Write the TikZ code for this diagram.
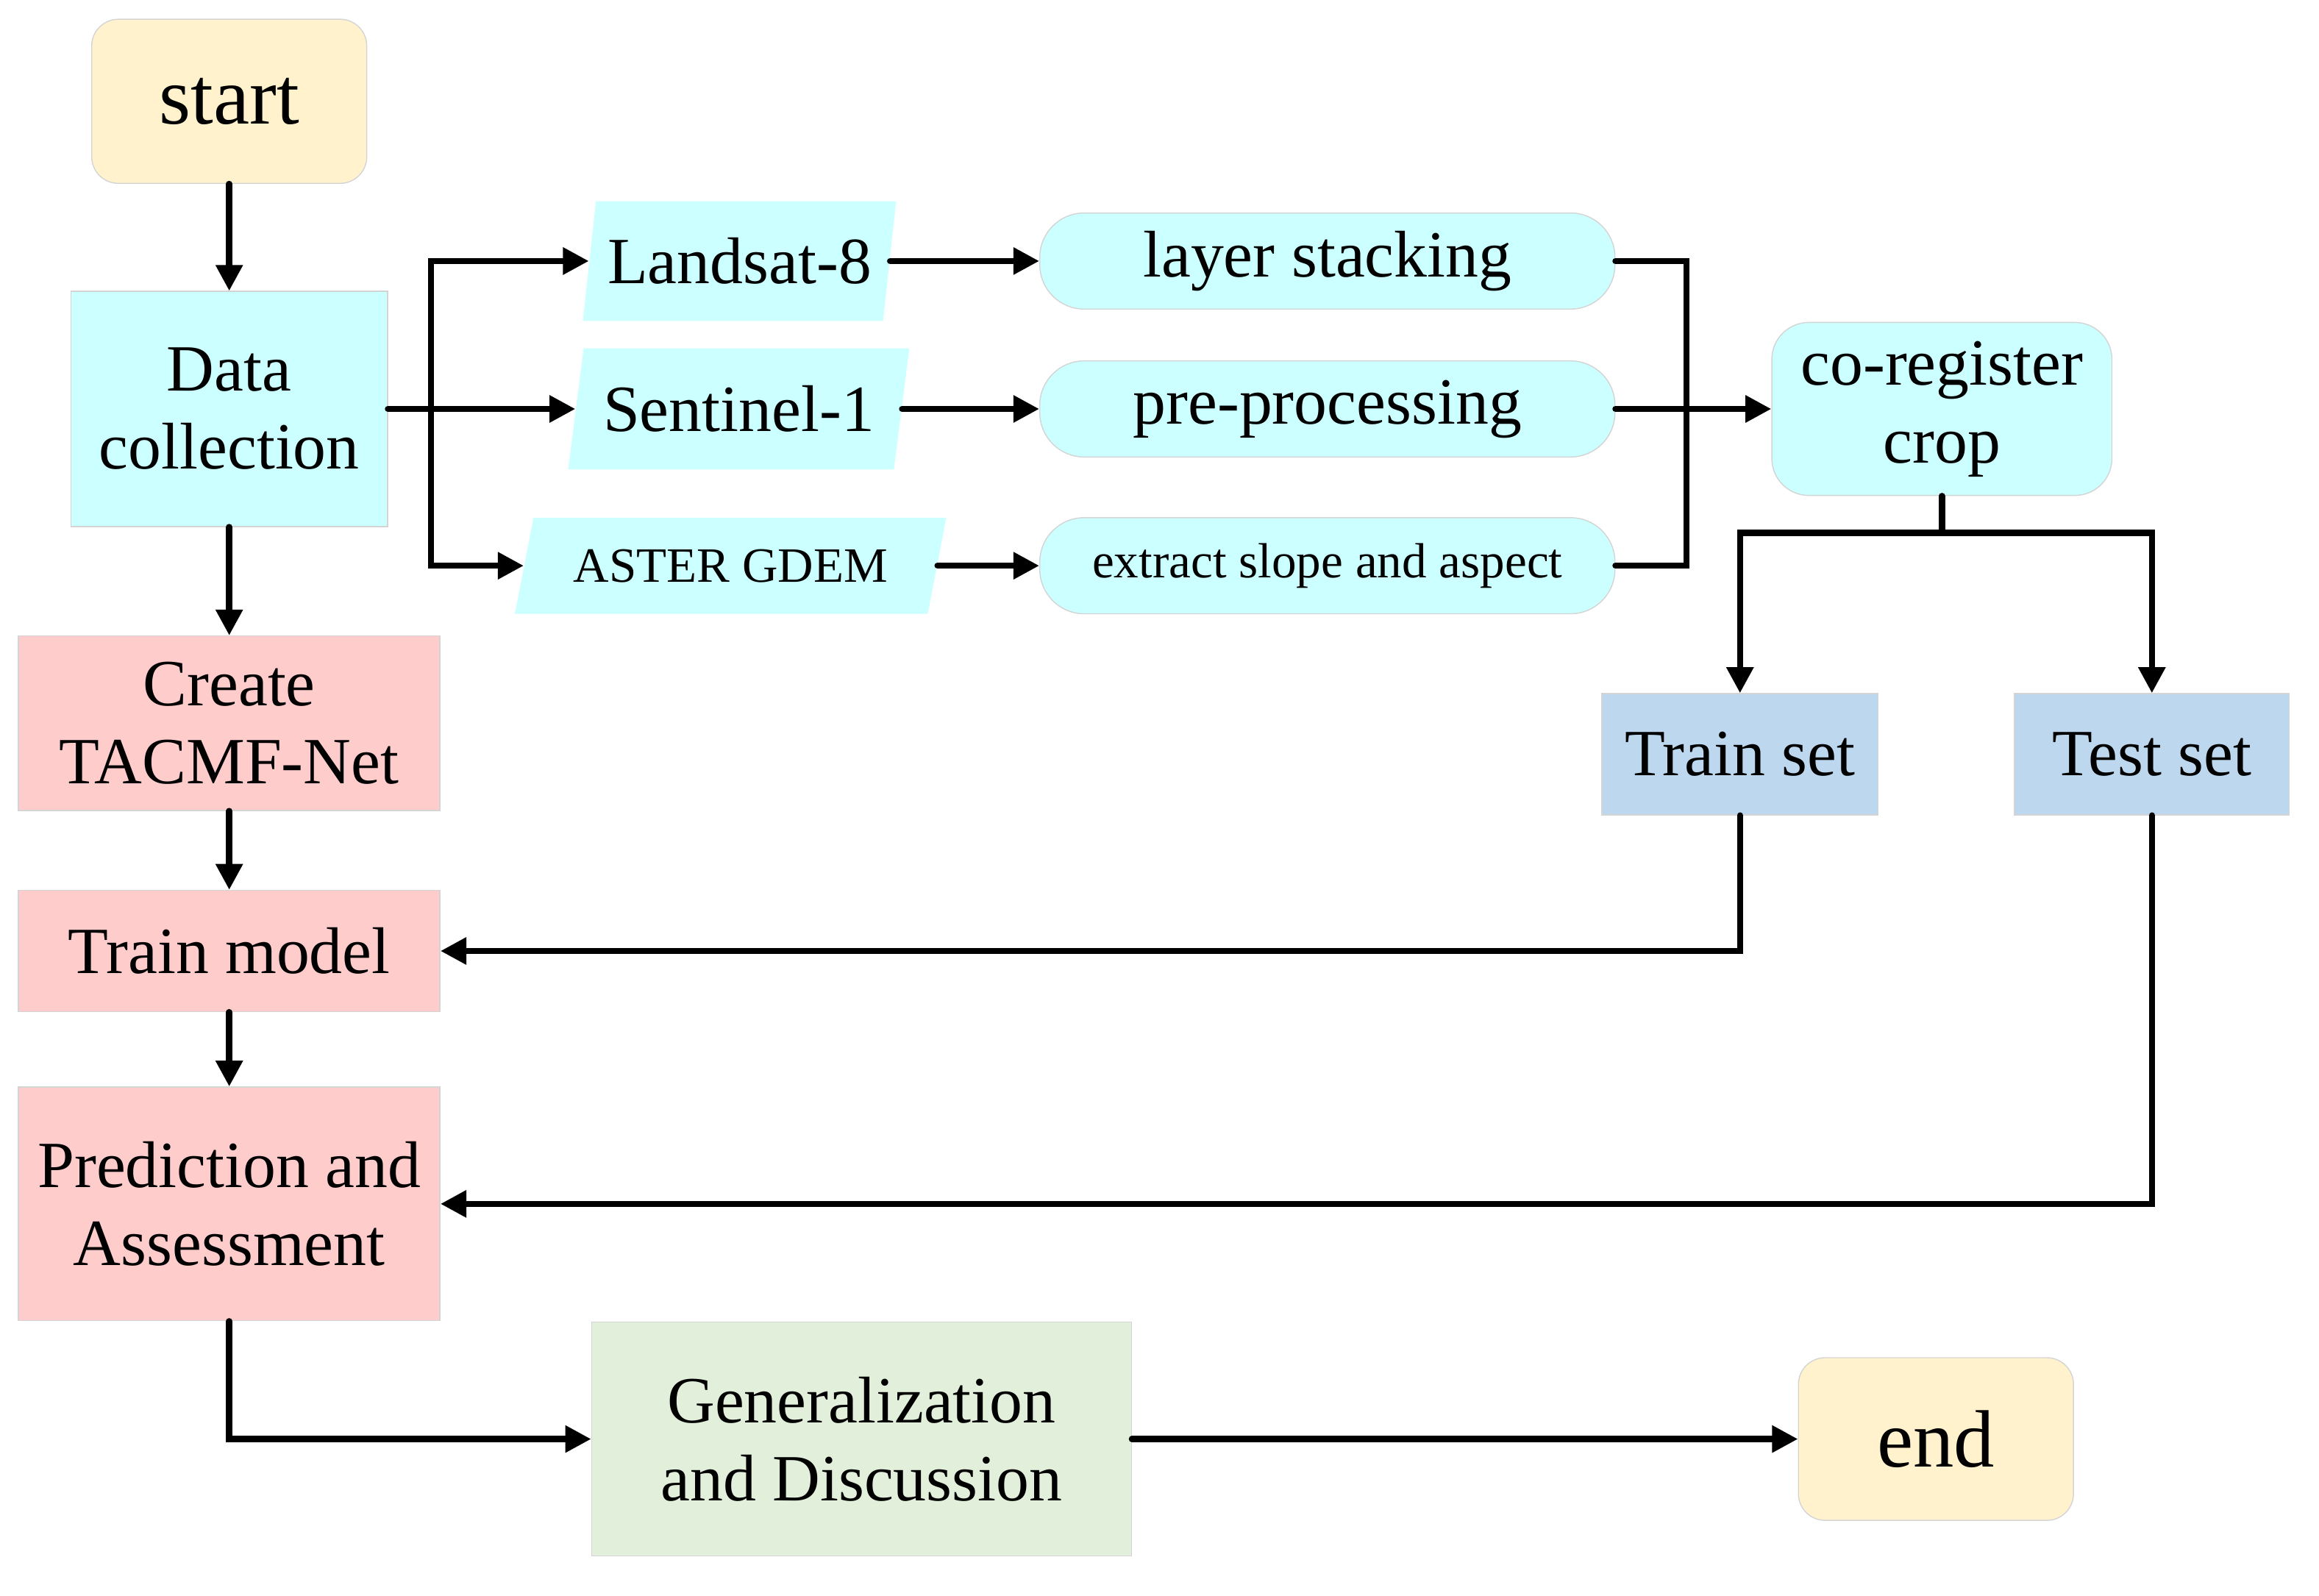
\documentclass[tikz,border=0pt]{standalone}
\usepackage{fontspec}
\setmainfont{Liberation Serif}
\usetikzlibrary{shapes.geometric,arrows.meta,calc}
\definecolor{cyellow}{HTML}{FFF2CC}
\definecolor{ccyan}{HTML}{CCFFFF}
\definecolor{cpink}{HTML}{FFCCCC}
\definecolor{cgreen}{HTML}{E2EFDA}
\definecolor{cblue}{HTML}{BDD7EE}
\definecolor{cborder}{HTML}{D4D4D4}
\tikzset{
  mfont/.style={font=\fontsize{25.4}{30}\selectfont},
  sfont/.style={font=\fontsize{19}{23}\selectfont},
  bfont/.style={font=\fontsize{31.3}{36}\selectfont},
  box/.style={rectangle, draw=cborder, line width=0.4pt, align=center, inner sep=0pt, mfont},
  rbox/.style={box, rounded corners=0.36cm},
  pill/.style={box, rounded corners=0.6cm, minimum width=7.78cm, minimum height=1.3cm, fill=ccyan},
  para/.style={trapezium, trapezium stretches=true, fill=ccyan, inner sep=0pt, align=center, mfont},
  conn/.style={line width=2.4pt, line cap=round, line join=miter},
  arr/.style={conn, -{Triangle[length=0.35cm,width=0.35cm]}},
}
\begin{document}
\begin{tikzpicture}[x=0.02cm,y=-0.02cm]
\useasboundingbox (0,0) rectangle (1568,1079);
% left column
\node[rbox, fill=cyellow, bfont, minimum width=3.72cm, minimum height=2.22cm] (st) at (155,68.5) {start};
\node[box, fill=ccyan, minimum width=4.28cm, minimum height=3.18cm] (dc) at (155,276.5) {Data\\collection};
\node[box, fill=cpink, minimum width=5.7cm, minimum height=2.36cm] (cn) at (155,489) {Create\\TACMF-Net};
\node[box, fill=cpink, minimum width=5.7cm, minimum height=1.64cm] (tm) at (155,643) {Train model};
\node[box, fill=cpink, minimum width=5.7cm, minimum height=3.16cm] (pa) at (155,814) {Prediction and\\Assessment};
\node[box, fill=cgreen, minimum width=7.3cm, minimum height=3.16cm] (gd) at (582.5,973) {Generalization\\and Discussion};
\node[rbox, fill=cyellow, bfont, minimum width=3.72cm, minimum height=2.2cm] (en) at (1309,973) {end};
% data sources
\node[para, trapezium left angle=75.5, trapezium right angle=104.5, minimum width=4.24cm, minimum height=1.62cm] (l8) at (500,176.5) {Landsat-8};
\node[para, trapezium left angle=73.7, trapezium right angle=106.3, minimum width=4.62cm, minimum height=1.64cm] (s1) at (499.5,276.5) {Sentinel-1};
\node[para, sfont, trapezium left angle=65.9, trapezium right angle=114.1, minimum width=5.84cm, minimum height=1.3cm] (as) at (494,382.5) {ASTER GDEM};
% processing
\node[pill] (ls) at (897.5,176.5) {layer stacking};
\node[pill] (pp) at (897.5,276.5) {pre-processing};
\node[pill, sfont] (ex) at (897.5,382.5) {extract slope and aspect};
\node[rbox, fill=ccyan, rounded corners=0.5cm, minimum width=4.6cm, minimum height=2.34cm] (cr) at (1313,276.5) {co-register\\crop};
\node[box, fill=cblue, minimum width=3.74cm, minimum height=1.64cm] (tr) at (1176.5,510) {Train set};
\node[box, fill=cblue, minimum width=3.72cm, minimum height=1.64cm] (te) at (1455,510) {Test set};
% connectors
\draw[arr] (st.south) -- (dc.north);
\draw[arr] (dc.south) -- (cn.north);
\draw[arr] (cn.south) -- (tm.north);
\draw[arr] (tm.south) -- (pa.north);
\draw[arr] (pa.south) |- (gd.west);
\draw[arr] (gd.east) -- (en.west);
\coordinate (br) at ($(dc.east)+(29,0)$);
\draw[arr] (dc.east) -- (s1.left side);
\draw[arr] (br) |- (l8.left side);
\draw[arr] (br) |- (as.left side);
\draw[arr] (l8.right side) -- (ls.west);
\draw[arr] (s1.right side) -- (pp.west);
\draw[arr] (as.right side) -- (ex.west);
\coordinate (mg) at ($(pp.east)+(48,0)$);
\draw[conn] (ls.east) -| (mg);
\draw[conn] (ex.east) -| (mg);
\draw[arr] (pp.east) -- (cr.west);
\coordinate (sp) at ($(cr.south)+(0,25)$);
\draw[conn] (cr.south) -- (sp);
\draw[arr] (sp) -| (tr.north);
\draw[arr] (sp) -| (te.north);
\draw[arr] (tr.south) |- (tm.east);
\draw[arr] (te.south) |- (pa.east);
\end{tikzpicture}
\end{document}
